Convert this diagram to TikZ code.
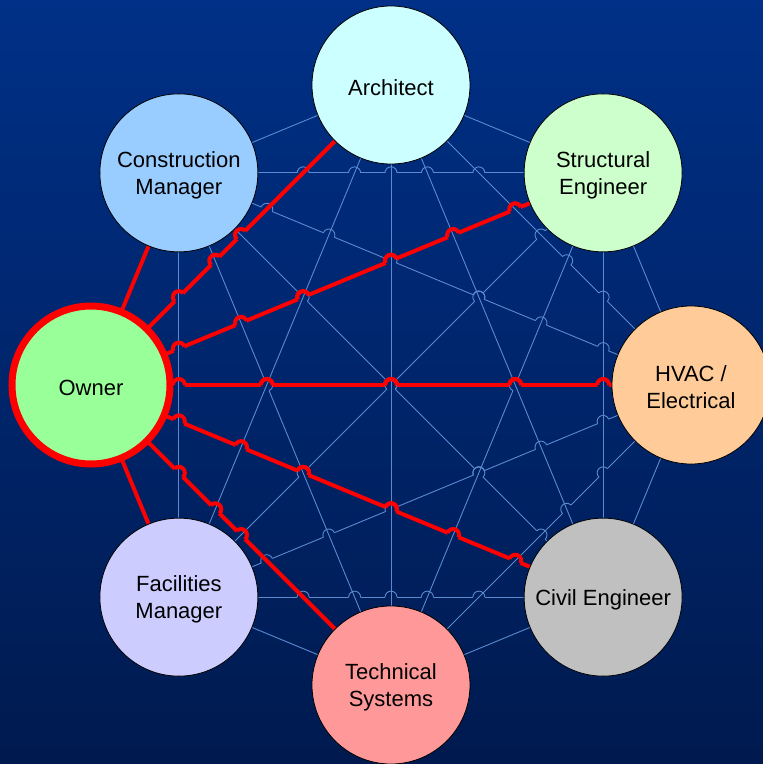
\documentclass[tikz,border=0pt]{standalone}
\usepackage{fontspec}
\setmainfont{Liberation Sans}
\pgfdeclarelayer{bg}
\pgfdeclarelayer{edges}
\pgfsetlayers{bg,edges,main}

\definecolor{bgtop}{RGB}{0,48,135}
\definecolor{bgbot}{RGB}{0,26,79}
\definecolor{meshblue}{RGB}{92,138,208}
\definecolor{linkred}{RGB}{255,0,0}
\definecolor{archfill}{HTML}{CCFFFF}
\definecolor{structfill}{HTML}{CCFFCC}
\definecolor{hvacfill}{HTML}{FFCC99}
\definecolor{civilfill}{HTML}{C0C0C0}
\definecolor{techfill}{HTML}{FF9999}
\definecolor{facfill}{HTML}{CCCCFF}
\definecolor{ownerfill}{HTML}{99FF99}
\definecolor{cmfill}{HTML}{99CCFF}

% angular position of every party on the ring
\def\angarch{90}
\def\angstruct{45}
\def\anghvac{0}
\def\angcivil{-45}
\def\angtech{-90}
\def\angfac{-135}
\def\angowner{180}
\def\angcm{135}

% every link: first node / second node / style
\def\linkdata{arch/struct/mesh,arch/hvac/mesh,arch/civil/mesh,arch/tech/mesh,arch/fac/mesh,arch/cm/mesh,struct/hvac/mesh,struct/civil/mesh,struct/tech/mesh,struct/fac/mesh,struct/cm/mesh,hvac/civil/mesh,hvac/tech/mesh,hvac/fac/mesh,hvac/cm/mesh,civil/tech/mesh,civil/fac/mesh,civil/cm/mesh,tech/fac/mesh,tech/cm/mesh,fac/cm/mesh,owner/arch/ownerlink,owner/struct/ownerlink,owner/hvac/ownerlink,owner/civil/ownerlink,owner/tech/ownerlink,owner/fac/ownerlink,owner/cm/ownerlink}

\def\hopr{6}
% extra room above the first text line, so labels sit a little lower in the disc
\newcommand\labeltop{\rule{0pt}{21pt}}

\begin{document}
\begin{tikzpicture}[x=1pt,y=1pt,
  party/.style={circle, draw=black, line width=0.8pt, minimum size=158pt,
    inner sep=0pt, align=center, text=black,
    font=\fontsize{22}{27}\selectfont},
  mesh/.style={draw=meshblue, line width=0.9pt},
  ownerlink/.style={draw=linkred, line width=4pt}]

\useasboundingbox (-391,-379) rectangle (372,385);
\begin{pgfonlayer}{bg}
  \shade[top color=bgtop, bottom color=bgbot] (-391,-379) rectangle (372,385);
\end{pgfonlayer}

% parties
\node[party, fill=archfill]   (arch)   at (90:300)   {\labeltop Architect};
\node[party, fill=structfill] (struct) at (45:300)   {\labeltop Structural\\Engineer};
\node[party, fill=hvacfill]   (hvac)   at (0:300)    {\labeltop HVAC /\\Electrical};
\node[party, fill=civilfill]  (civil)  at (-45:300)  {\labeltop Civil Engineer};
\node[party, fill=techfill]   (tech)   at (-90:300)  {\labeltop Technical\\Systems};
\node[party, fill=facfill]    (fac)    at (-135:300) {\labeltop Facilities\\Manager};
\node[party, fill=ownerfill, draw=linkred, line width=7pt] (owner) at (180:300) {\labeltop Owner};
\node[party, fill=cmfill]     (cm)     at (135:300)  {\labeltop Construction\\Manager};

% links with line jumps: the flatter of two crossing links hops over the other
\foreach[count=\i] \na/\nb/\ks in \linkdata {
  \edef\aA{\csname ang\na\endcsname}
  \edef\aB{\csname ang\nb\endcsname}
  \pgfmathsetmacro\xA{cos(\aA)}
  \pgfmathsetmacro\yA{sin(\aA)}
  \pgfmathsetmacro\xB{cos(\aB)}
  \pgfmathsetmacro\yB{sin(\aB)}
  \pgfmathsetmacro\dxA{\xB-\xA}
  \pgfmathsetmacro\dyA{\yB-\yA}
  \pgfmathsetmacro\hA{abs(cos((\aA+\aB)/2))}
  \pgfmathsetmacro\lenA{veclen(\dxA,\dyA)}
  \pgfmathsetmacro\phiA{atan2(\dyA,\dxA)}
  \pgfmathsetmacro\phiA{\dxA<0 ? \phiA+180 : \phiA}
  \gdef\cliplist{}
  \gdef\arclist{}
  \foreach[count=\j] \nc/\nd/\kt in \linkdata {
    \edef\aC{\csname ang\nc\endcsname}
    \edef\aD{\csname ang\nd\endcsname}
    \pgfmathsetmacro\hC{abs(cos((\aC+\aD)/2))}
    \pgfmathsetmacro\jumps{((\hA < \hC - 0.01) || ((abs(\hA-\hC) < 0.01) && (\i > \j))) ? 1 : 0}
    \ifdim\jumps pt>0.5pt
      \pgfmathsetmacro\xC{cos(\aC)}
      \pgfmathsetmacro\yC{sin(\aC)}
      \pgfmathsetmacro\dxC{cos(\aD)-\xC}
      \pgfmathsetmacro\dyC{sin(\aD)-\yC}
      \pgfmathsetmacro\den{\dxA*\dyC-\dyA*\dxC}
      \pgfmathsetmacro\absden{abs(\den)}
      \ifdim\absden pt>0.01pt
        \pgfmathsetmacro\tA{((\xC-\xA)*\dyC-(\yC-\yA)*\dxC)/\den}
        \pgfmathsetmacro\tC{((\xC-\xA)*\dyA-(\yC-\yA)*\dxA)/\den}
        \pgfmathsetmacro\lenC{veclen(\dxC,\dyC)}
        \pgfmathsetmacro\ok{((\tA*\lenA>0.27) && ((1-\tA)*\lenA>0.27) && (\tC*\lenC>0.27) && ((1-\tC)*\lenC>0.27)) ? 1 : 0}
        \ifdim\ok pt>0.5pt
          \pgfmathsetmacro\hx{300*(\xA+\tA*\dxA)}
          \pgfmathsetmacro\hy{300*(\yA+\tA*\dyA)}
          \pgfmathsetmacro\sx{\hx-\hopr*cos(\phiA)}
          \pgfmathsetmacro\sy{\hy-\hopr*sin(\phiA)}
          \pgfmathsetmacro\sa{\phiA+180}
          \xdef\cliplist{\unexpanded\expandafter{\cliplist}\noexpand\clip (-400,-400) rectangle (400,400) (\hx,\hy) circle[radius=\hopr];}
          \xdef\arclist{\unexpanded\expandafter{\arclist}\noexpand\draw[\ks] (\sx,\sy) arc[start angle=\sa, end angle=\phiA, radius=\hopr];}
        \fi
      \fi
    \fi
  }
  \begin{pgfonlayer}{edges}
    \begin{scope}[even odd rule]
      \cliplist
      \draw[\ks] (\na.center) -- (\nb.center);
    \end{scope}
    \arclist
  \end{pgfonlayer}
}
\end{tikzpicture}
\end{document}
